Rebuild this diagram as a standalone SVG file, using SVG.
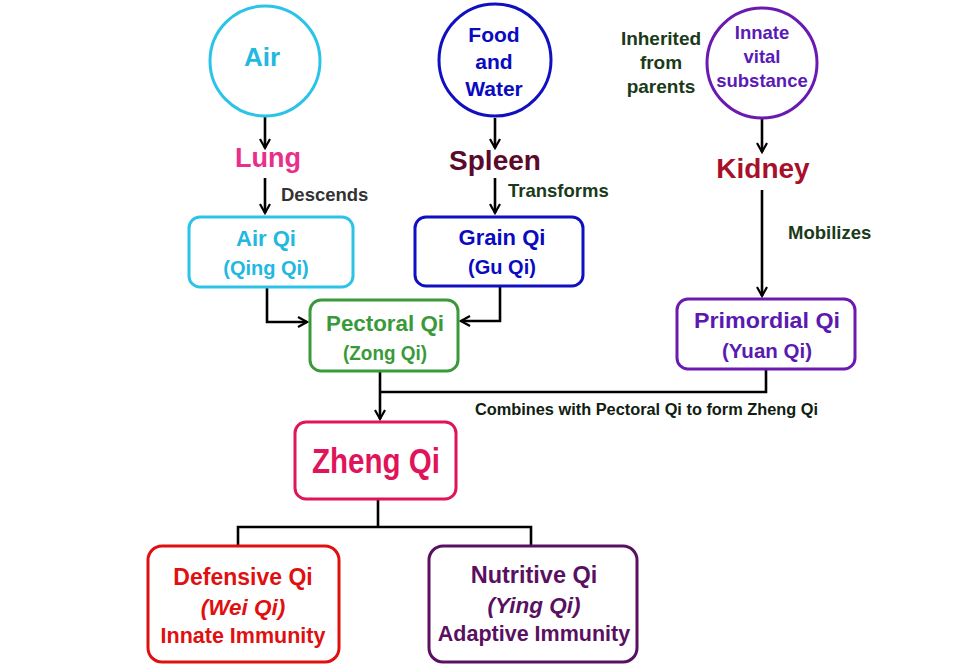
<svg xmlns="http://www.w3.org/2000/svg" width="980" height="669" viewBox="0 0 980 669">
<defs>
<marker id="ah" viewBox="0 0 12 12" refX="10" refY="6" markerWidth="12" markerHeight="12" markerUnits="userSpaceOnUse" orient="auto">
<path d="M1,1 L10,6 L1,11" fill="none" stroke="#000" stroke-width="2.2"/>
</marker>
<style>
text{font-family:"Liberation Sans",Arial,sans-serif;font-weight:bold;text-anchor:middle;dominant-baseline:central}
.c{fill:#fff;stroke-width:3}
.b{fill:#fff;stroke-width:3}
.ln{fill:none;stroke:#000;stroke-width:2.6}
.lbl{font-size:18.5px;text-anchor:start}
</style>
</defs>
<rect width="980" height="669" fill="#fff"/>
<g id="connectors">
<line class="ln" x1="265" y1="117" x2="265" y2="148" marker-end="url(#ah)"/>
<line class="ln" x1="265" y1="178" x2="265" y2="213" marker-end="url(#ah)"/>
<line class="ln" x1="495" y1="118" x2="495" y2="148" marker-end="url(#ah)"/>
<line class="ln" x1="495" y1="178" x2="495" y2="213" marker-end="url(#ah)"/>
<line class="ln" x1="762" y1="119" x2="762" y2="152" marker-end="url(#ah)"/>
<line class="ln" x1="762" y1="190" x2="762" y2="296" marker-end="url(#ah)"/>
<polyline class="ln" points="267,287 267,322 307,322" marker-end="url(#ah)"/>
<polyline class="ln" points="500,286 500,321 461,321" marker-end="url(#ah)"/>
<polyline class="ln" points="766,369 766,392 380,392"/>
<line class="ln" x1="380" y1="371" x2="380" y2="419" marker-end="url(#ah)"/>
<polyline class="ln" points="378,499 378,527"/>
<polyline class="ln" points="238,546 238,527 531,527 531,546"/>
<text x="281" y="194" class="lbl" fill="#333">Descends</text>
<text x="508" y="190" class="lbl" fill="#1a3a1a">Transforms</text>
<text x="788" y="232" class="lbl" fill="#1a3a1a">Mobilizes</text>
<text x="475" y="409" font-size="16" fill="#102010" style="text-anchor:start" textLength="343" lengthAdjust="spacingAndGlyphs">Combines with Pectoral Qi to form Zheng Qi</text>
<text x="661" y="38" font-size="19" fill="#1a3a1a">Inherited</text>
<text x="661" y="62" font-size="19" fill="#1a3a1a">from</text>
<text x="661" y="86" font-size="19" fill="#1a3a1a">parents</text>
</g>
<g id="air">
<circle class="c" cx="265" cy="61" r="55" stroke="#2bc4e8"/>
<text x="262" y="57" font-size="26" fill="#22b8e0">Air</text>
</g>
<g id="food">
<circle class="c" cx="495" cy="60" r="56" stroke="#1010c0"/>
<text x="494" y="34" font-size="21" fill="#0a0ac0">Food</text>
<text x="494" y="61" font-size="21" fill="#0a0ac0">and</text>
<text x="494" y="88" font-size="21" fill="#0a0ac0">Water</text>
</g>
<g id="innate">
<circle class="c" cx="762" cy="63" r="55" stroke="#6a1ab0"/>
<text x="762" y="32" font-size="18.5" fill="#5a1ab8">Innate</text>
<text x="762" y="56" font-size="18.5" fill="#5a1ab8">vital</text>
<text x="762" y="80" font-size="18.5" fill="#5a1ab8">substance</text>
</g>
<g id="lung"><text x="268" y="158" font-size="27" fill="#e8308a">Lung</text></g>
<g id="spleen"><text x="495" y="160" font-size="28" fill="#5a0a2a">Spleen</text></g>
<g id="kidney"><text x="763" y="168" font-size="28" fill="#a8102a">Kidney</text></g>
<g id="airqi">
<rect class="b" x="189" y="217" width="164" height="70" rx="11" stroke="#2bc4e8"/>
<text x="266" y="238" font-size="22" fill="#22b8e0">Air Qi</text>
<text x="266" y="268" font-size="20" fill="#22b8e0">(Qing Qi)</text>
</g>
<g id="grainqi">
<rect class="b" x="415" y="217" width="168" height="69" rx="11" stroke="#1010c0"/>
<text x="502" y="237" font-size="22" fill="#0a0ac0">Grain Qi</text>
<text x="502" y="267" font-size="20" fill="#0a0ac0">(Gu Qi)</text>
</g>
<g id="pectoral">
<rect class="b" x="310" y="300" width="148" height="71" rx="11" stroke="#3a9a3a"/>
<text x="385" y="323" font-size="22" fill="#3a9a3a" textLength="118" lengthAdjust="spacingAndGlyphs">Pectoral Qi</text>
<text x="385" y="352" font-size="21" fill="#3a9a3a" textLength="84" lengthAdjust="spacingAndGlyphs">(Zong Qi)</text>
</g>
<g id="primordial">
<rect class="b" x="677" y="299" width="178" height="70" rx="11" stroke="#6a1ab0"/>
<text x="767" y="320" font-size="22" fill="#5a1ab0" textLength="146" lengthAdjust="spacingAndGlyphs">Primordial Qi</text>
<text x="767" y="350" font-size="21" fill="#5a1ab0" textLength="90" lengthAdjust="spacingAndGlyphs">(Yuan Qi)</text>
</g>
<g id="zheng">
<rect class="b" x="295" y="422" width="161" height="77" rx="11" stroke="#e0145a"/>
<text x="376" y="460" font-size="35" fill="#e0145a" textLength="128" lengthAdjust="spacingAndGlyphs">Zheng Qi</text>
</g>
<g id="defensive">
<rect class="b" x="148" y="546" width="191" height="116" rx="14" stroke="#e01010"/>
<text x="243" y="577" font-size="23" fill="#e01010">Defensive Qi</text>
<text x="243" y="607" font-size="22.5" font-style="italic" fill="#e01010">(Wei Qi)</text>
<text x="243" y="636" font-size="21.5" fill="#e01010">Innate Immunity</text>
</g>
<g id="nutritive">
<rect class="b" x="429" y="546" width="208" height="116" rx="14" stroke="#5a1060"/>
<text x="534" y="575" font-size="23.5" fill="#5a1060">Nutritive Qi</text>
<text x="534" y="605" font-size="22.5" font-style="italic" fill="#5a1060">(Ying Qi)</text>
<text x="534" y="634" font-size="21.5" fill="#5a1060">Adaptive Immunity</text>
</g>
</svg>
